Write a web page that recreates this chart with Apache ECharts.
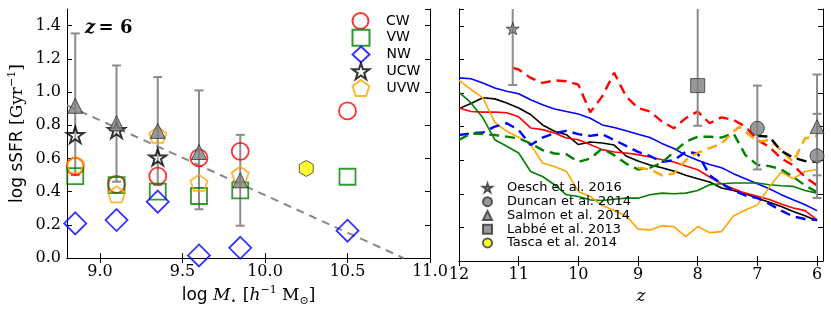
<!DOCTYPE html>
<html><head><meta charset="utf-8">
<script src="https://cdn.jsdelivr.net/npm/echarts@6/dist/echarts.min.js"></script>
<style>html,body{margin:0;padding:0;background:#fff}#c{width:831px;height:312px}</style>
</head><body><div id="c"></div>
<script>
// ===== Left panel (z = 6): log sSFR vs log M* =====
const massTicks = [9.0, 9.5, 10.0, 10.5, 11.0];
const massCW = [8.85, 9.1, 9.35, 9.6, 9.85, 10.5];
const cwSSFR = [0.553, 0.444, 0.494, 0.603, 0.643, 0.886];
const massVW = [8.85, 9.1, 9.35, 9.6, 9.85, 10.5];
const vwSSFR = [0.494, 0.44, 0.40, 0.374, 0.408, 0.49];
const massNW = [8.85, 9.1, 9.35, 9.6, 9.85, 10.5];
const nwSSFR = [0.209, 0.229, 0.34, 0.016, 0.062, 0.165];
const massUCW = [8.85, 9.1, 9.35];
const ucwSSFR = [0.742, 0.772, 0.607];
const massUVW = [8.85, 9.1, 9.35, 9.6, 9.85];
const uvwSSFR = [0.563, 0.384, 0.742, 0.454, 0.503];
const salmonMass = [8.85, 9.1, 9.35, 9.6, 9.85];
const salmonSSFR = [0.917, 0.812, 0.766, 0.639, 0.468];
const salmonLo = [0.50, 0.46, 0.44, 0.294, 0.195];
const salmonHi = [1.353, 1.16, 1.09, 1.01, 0.742];
const tascaMass = [10.25];
const tascaSSFR = [0.54];
const fitMass = [8.8, 10.84];
const fitSSFR = [0.92, 0.0];
const modelNames = ['CW', 'VW', 'NW', 'UCW', 'UVW'];

// ===== Right panel: log sSFR vs z =====
const zTicks = [6, 7, 8, 9, 10, 11, 12];
const zGrid = [12.0, 11.8, 11.6, 11.4, 11.2, 11.0, 10.8, 10.6, 10.4, 10.2, 10.0, 9.8, 9.6, 9.4, 9.2, 9.0, 8.8, 8.6, 8.4, 8.2, 8.0, 7.8, 7.6, 7.4, 7.2, 7.0, 6.8, 6.6, 6.4, 6.2, 6.0];
const blueSolid = [1.09, 1.085, 1.06, 1.03, 1.01, 0.995, 0.96, 0.93, 0.905, 0.89, 0.875, 0.85, 0.81, 0.795, 0.775, 0.755, 0.735, 0.70, 0.67, 0.63, 0.60, 0.575, 0.555, 0.52, 0.49, 0.46, 0.43, 0.395, 0.365, 0.335, 0.30];
const blackSolid = [0.907, 0.937, 0.972, 0.965, 0.941, 0.911, 0.872, 0.81, 0.772, 0.752, 0.693, 0.708, 0.702, 0.69, 0.625, 0.595, 0.572, 0.555, 0.535, 0.51, 0.49, 0.47, 0.434, 0.42, 0.40, 0.374, 0.35, 0.324, 0.295, 0.27, 0.24];
const redSolid = [0.911, 0.89, 0.886, 0.886, 0.882, 0.858, 0.792, 0.782, 0.762, 0.732, 0.722, 0.693, 0.663, 0.649, 0.643, 0.633, 0.619, 0.603, 0.59, 0.565, 0.543, 0.50, 0.46, 0.43, 0.404, 0.385, 0.366, 0.34, 0.315, 0.30, 0.245];
const greenSolid = [1.005, 0.941, 0.852, 0.722, 0.683, 0.643, 0.533, 0.503, 0.454, 0.394, 0.384, 0.364, 0.36, 0.368, 0.374, 0.374, 0.394, 0.404, 0.40, 0.404, 0.42, 0.454, 0.46, 0.464, 0.464, 0.464, 0.454, 0.448, 0.444, 0.42, 0.404];
const orangeSolid = [1.075, 1.021, 0.971, 0.825, 0.772, 0.737, 0.693, 0.583, 0.563, 0.533, 0.414, 0.384, 0.33, 0.30, 0.27, 0.19, 0.185, 0.209, 0.205, 0.145, 0.205, 0.169, 0.175, 0.268, 0.304, 0.334, 0.44, 0.53, 0.49, 0.533, 0.545];
const blueDash = [0.75, 0.76, 0.765, 0.80, 0.82, 0.78, 0.69, 0.735, 0.76, 0.775, 0.755, 0.745, 0.755, 0.72, 0.685, 0.65, 0.625, 0.59, 0.60, 0.65, 0.64, 0.51, 0.46, 0.42, 0.39, 0.375, 0.34, 0.30, 0.265, 0.25, 0.245];
const greenDash = [0.72, 0.76, 0.755, 0.75, 0.74, 0.73, 0.70, 0.66, 0.64, 0.635, 0.59, 0.61, 0.67, 0.63, 0.58, 0.545, 0.555, 0.585, 0.65, 0.71, 0.74, 0.74, 0.735, 0.76, 0.63, 0.572, 0.565, 0.545, 0.50, 0.45, 0.41];
const zRedDash = [11.1, 11.0, 10.8, 10.6, 10.4, 10.2, 10.0, 9.8, 9.6, 9.4, 9.2, 9.0, 8.8, 8.6, 8.4, 8.2, 8.0, 7.8, 7.6, 7.4, 7.2, 7.0, 6.8, 6.6, 6.4, 6.2, 6.0];
const redDash = [1.15, 1.14, 1.09, 1.06, 1.075, 1.07, 1.05, 0.885, 0.98, 1.12, 0.98, 0.91, 0.89, 0.83, 0.79, 0.85, 0.89, 0.82, 0.855, 0.84, 0.80, 0.72, 0.68, 0.61, 0.57, 0.50, 0.45];
const zOrangeDash = [9.0, 8.8, 8.6, 8.4, 8.2, 8.0, 7.8, 7.6, 7.4, 7.3, 7.2, 7.0, 6.8, 6.6, 6.4, 6.2, 6.0];
const orangeDash = [0.555, 0.545, 0.51, 0.52, 0.60, 0.645, 0.672, 0.70, 0.77, 0.80, 0.77, 0.71, 0.72, 0.66, 0.59, 0.73, 0.745];
const zBlackDash = [7.0, 6.8, 6.6, 6.4, 6.2, 6.0];
const blackDash = [0.745, 0.74, 0.655, 0.615, 0.595, 0.59];

const oeschZ = [11.1], oeschS = [1.383], oeschLo = [1.048], oeschHi = [1.6];
const labbeZ = [8.0], labbeS = [1.044], labbeLo = [0.805], labbeHi = [1.6];
const duncanZ = [7.0, 6.0], duncanS = [0.79, 0.626], duncanLo = [0.545, 0.375], duncanHi = [1.044, 0.876];
const salmonZ = [6.0], salmonZS = [0.80], salmonZLo = [0.51], salmonZHi = [1.11];

const Y_MIN = 0, Y_MAX = 1.5;

// ===== helpers =====
const zip = (a, b) => a.map((v, i) => [v, b[i]]);
const zip3 = (a, b, c) => a.map((v, i) => [v, b[i], c[i]]);
const STAR = 'path://M100 0 L122.45 69.1 L195.1 69.1 L136.3 111.8 L158.8 180.9 L100 138.2 L41.2 180.9 L63.7 111.8 L4.9 69.1 L77.55 69.1 Z';
const PENTA = 'path://M100 0 L195.1 69.1 L158.8 180.9 L41.2 180.9 L4.9 69.1 Z';
const HEXA = 'path://M86.6 0 L173.2 50 L173.2 150 L86.6 200 L0 150 L0 50 Z';
const ERR = '#8c8c8c';

function errRender(params, api) {
  const x = api.value(0), lo = api.value(1), hi = api.value(2);
  const top = Math.min(hi, Y_MAX);
  const p0 = api.coord([x, lo]), p1 = api.coord([x, top]);
  const cw = 4.5;
  const st = { stroke: ERR, lineWidth: 2, fill: null };
  const ch = [
    { type: 'line', shape: { x1: p0[0], y1: p0[1], x2: p1[0], y2: p1[1] }, style: st },
    { type: 'line', shape: { x1: p0[0] - cw, y1: p0[1], x2: p0[0] + cw, y2: p0[1] }, style: st }
  ];
  if (hi <= Y_MAX) ch.push({ type: 'line', shape: { x1: p1[0] - cw, y1: p1[1], x2: p1[0] + cw, y2: p1[1] }, style: st });
  return { type: 'group', children: ch };
}

const SERIF = 'DejaVu Serif';
const SANS = 'DejaVu Sans';
const tickLabel = { fontFamily: SERIF, fontSize: 16, color: '#000' };
const axLine = { show: true, lineStyle: { color: '#000', width: 1 } };
const tickIn = (vals) => ({ show: true, inside: true, length: 5, lineStyle: { color: '#000', width: 1 }, customValues: vals });
const tickInY = { show: true, inside: true, length: 5, lineStyle: { color: '#000', width: 1 } };

function lineSeries(name, xs, ys, color, dashed) {
  return {
    name, type: 'line', xAxisIndex: 2, yAxisIndex: 2, data: zip(xs, ys),
    showSymbol: false, symbol: 'none', silent: true, z: 2,
    lineStyle: { color, width: dashed ? 2.4 : 1.6, type: dashed ? [10, 6] : 'solid' }
  };
}

const nameRich = {
  s: { fontFamily: SANS, fontSize: 17, color: '#000' },
  r: { fontFamily: SERIF, fontSize: 17, color: '#000' },
  i: { fontFamily: SERIF, fontStyle: 'italic', fontSize: 17, color: '#000' },
  sup: { fontFamily: SERIF, fontSize: 11, color: '#000', verticalAlign: 'top' },
  sub: { fontFamily: SERIF, fontSize: 11, color: '#000', verticalAlign: 'bottom' }
};

// one legend per model row, rows spaced like the reference
const modelLegends = modelNames.map((nm, i) => ({
  data: [nm], orient: 'vertical', left: 351.5, top: 12 + i * 16.75, padding: 0,
  itemWidth: 17, itemHeight: 16, selectedMode: false,
  textStyle: { fontFamily: SANS, fontSize: 14, color: '#000', lineHeight: 16, padding: [0, 0, 0, 12] }
}));

const option = {
  animation: false,
  backgroundColor: '#fff',
  grid: [
    { left: 67, right: 401, top: 9, bottom: 51 },
    { left: 459, right: 8, top: 9, bottom: 51 }
  ],
  xAxis: [
    { gridIndex: 0, type: 'value', min: 8.8, max: 11.0, position: 'bottom',
      axisLine: axLine, axisTick: tickIn(massTicks), splitLine: { show: false },
      axisLabel: Object.assign({ customValues: massTicks, margin: 6, formatter: v => v.toFixed(1) }, tickLabel),
      name: '{s|log }{i|M}{sub|⋆}{r| [}{i|h}{sup|−1}{r| M}{sub|⊙}{r|]}',
      nameLocation: 'middle', nameGap: 23, nameTextStyle: { rich: nameRich, lineHeight: 22 } },
    { gridIndex: 0, type: 'value', min: 8.8, max: 11.0, position: 'top',
      axisLine: axLine, axisTick: tickIn(massTicks), axisLabel: { show: false }, splitLine: { show: false } },
    { gridIndex: 1, type: 'value', min: 5.9, max: 12, inverse: true, position: 'bottom',
      axisLine: axLine, axisTick: tickIn(zTicks), splitLine: { show: false },
      axisLabel: Object.assign({ customValues: zTicks, margin: 6, formatter: v => String(v) }, tickLabel),
      name: 'z', nameLocation: 'middle', nameGap: 19,
      nameTextStyle: { fontFamily: SERIF, fontStyle: 'italic', fontSize: 17, color: '#000' } },
    { gridIndex: 1, type: 'value', min: 5.9, max: 12, inverse: true, position: 'top',
      axisLine: axLine, axisTick: tickIn(zTicks), axisLabel: { show: false }, splitLine: { show: false } }
  ],
  yAxis: [
    { gridIndex: 0, type: 'value', min: Y_MIN, max: Y_MAX, interval: 0.2, position: 'left',
      axisLine: axLine, axisTick: tickInY, splitLine: { show: false },
      axisLabel: Object.assign({ margin: 6, formatter: v => v.toFixed(1), showMaxLabel: false }, tickLabel),
      name: '{s|log sSFR }{r|[Gyr}{sup|−1}{r|]}', nameLocation: 'middle', nameGap: 38, nameRotate: 90,
      nameTextStyle: { rich: nameRich, lineHeight: 22 } },
    { gridIndex: 0, type: 'value', min: Y_MIN, max: Y_MAX, interval: 0.2, position: 'right',
      axisLine: axLine, axisTick: tickInY, axisLabel: { show: false }, splitLine: { show: false } },
    { gridIndex: 1, type: 'value', min: Y_MIN, max: Y_MAX, interval: 0.2, position: 'left',
      axisLine: axLine, axisTick: tickInY, axisLabel: { show: false }, splitLine: { show: false } },
    { gridIndex: 1, type: 'value', min: Y_MIN, max: Y_MAX, interval: 0.2, position: 'right',
      axisLine: axLine, axisTick: tickInY, axisLabel: { show: false }, splitLine: { show: false } }
  ],
  legend: modelLegends.concat([
    { data: [{ name: 'Oesch et al. 2016' }, { name: 'Duncan et al. 2014' }, { name: 'Salmon et al. 2014' },
             { name: 'Labbé et al. 2013' }, { name: 'Tasca et al. 2014', icon: 'circle' }],
      orient: 'vertical', left: 477, top: 176, itemWidth: 9, itemHeight: 9, itemGap: 0, selectedMode: false,
      textStyle: { fontFamily: SANS, fontSize: 13, color: '#000', lineHeight: 13.75, padding: [0, 0, 0, 10] } }
  ]),
  graphic: [
    { type: 'text', left: 85, top: 19, z: 10,
      style: { text: '{i|z} {b|= 6}', rich: {
        i: { fontFamily: SERIF, fontWeight: 'bold', fontStyle: 'italic', fontSize: 18, fill: '#000' },
        b: { fontFamily: SERIF, fontWeight: 'bold', fontSize: 18, fill: '#000' } } } }
  ],
  series: [
    // ---- left panel ----
    { name: 'fit', type: 'line', xAxisIndex: 0, yAxisIndex: 0, data: zip(fitMass, fitSSFR), symbol: 'none',
      silent: true, z: 1, lineStyle: { color: '#888', width: 2, type: [8, 6] } },
    { name: 'salmonErrL', type: 'custom', xAxisIndex: 0, yAxisIndex: 0, renderItem: errRender,
      encode: { x: 0, y: [1, 2] }, data: zip3(salmonMass, salmonLo, salmonHi), z: 2, silent: true },
    { name: 'CW', type: 'scatter', xAxisIndex: 0, yAxisIndex: 0, data: zip(massCW, cwSSFR), symbol: 'circle', symbolSize: 17, z: 3,
      itemStyle: { color: 'rgba(0,0,0,0)', borderColor: '#ff0000', borderWidth: 1.8 } },
    { name: 'VW', type: 'scatter', xAxisIndex: 0, yAxisIndex: 0, data: zip(massVW, vwSSFR), symbol: 'rect', symbolSize: 16, z: 3,
      itemStyle: { color: 'rgba(0,0,0,0)', borderColor: '#008000', borderWidth: 1.8 } },
    { name: 'NW', type: 'scatter', xAxisIndex: 0, yAxisIndex: 0, data: zip(massNW, nwSSFR), symbol: 'diamond', symbolSize: 22, z: 3,
      itemStyle: { color: 'rgba(0,0,0,0)', borderColor: '#0000ff', borderWidth: 1.8 } },
    { name: 'UCW', type: 'scatter', xAxisIndex: 0, yAxisIndex: 0, data: zip(massUCW, ucwSSFR), symbol: STAR, symbolKeepAspect: true, symbolSize: 17, z: 3,
      itemStyle: { color: 'rgba(255,255,255,0.3)', borderColor: '#000', borderWidth: 2 } },
    { name: 'UVW', type: 'scatter', xAxisIndex: 0, yAxisIndex: 0, data: zip(massUVW, uvwSSFR), symbol: PENTA, symbolKeepAspect: true, symbolSize: 17, z: 3,
      itemStyle: { color: 'rgba(0,0,0,0)', borderColor: '#ffa500', borderWidth: 1.8 } },
    { name: 'Salmon et al. 2014', type: 'scatter', xAxisIndex: 0, yAxisIndex: 0, data: zip(salmonMass, salmonSSFR), symbol: 'triangle', symbolSize: 15, z: 4,
      itemStyle: { color: '#808080', borderColor: '#333', borderWidth: 1 } },
    { name: 'Tasca et al. 2014', type: 'scatter', xAxisIndex: 0, yAxisIndex: 0, data: zip(tascaMass, tascaSSFR), symbol: HEXA, symbolKeepAspect: true, symbolSize: 16, z: 4,
      itemStyle: { color: '#ffff00', borderColor: '#333', borderWidth: 1 } },
    // ---- right panel lines ----
    lineSeries('bs', zGrid, blueSolid, '#0000ff', false),
    lineSeries('ks', zGrid, blackSolid, '#000000', false),
    lineSeries('rs', zGrid, redSolid, '#ff0000', false),
    lineSeries('gs', zGrid, greenSolid, '#008000', false),
    lineSeries('os', zGrid, orangeSolid, '#ffa500', false),
    lineSeries('rd', zRedDash, redDash, '#ff0000', true),
    lineSeries('bd', zGrid, blueDash, '#0000ff', true),
    lineSeries('gd', zGrid, greenDash, '#008000', true),
    lineSeries('od', zOrangeDash, orangeDash, '#ffa500', true),
    lineSeries('kd', zBlackDash, blackDash, '#000000', true),
    // ---- right panel observations ----
    { name: 'errR', type: 'custom', xAxisIndex: 2, yAxisIndex: 2, renderItem: errRender, encode: { x: 0, y: [1, 2] }, z: 5, silent: true,
      data: [].concat(zip3(oeschZ, oeschLo, oeschHi), zip3(labbeZ, labbeLo, labbeHi), zip3(duncanZ, duncanLo, duncanHi), zip3(salmonZ, salmonZLo, salmonZHi)) },
    { name: 'Oesch et al. 2016', type: 'scatter', xAxisIndex: 2, yAxisIndex: 2, data: zip(oeschZ, oeschS), symbol: STAR, symbolKeepAspect: true, symbolSize: 13, z: 6,
      itemStyle: { color: '#808080', borderColor: '#333', borderWidth: 1 } },
    { name: 'Duncan et al. 2014', type: 'scatter', xAxisIndex: 2, yAxisIndex: 2, data: zip(duncanZ, duncanS), symbol: 'circle', symbolSize: 14, z: 6,
      itemStyle: { color: '#808080', borderColor: '#333', borderWidth: 1 } },
    { name: 'Salmon et al. 2014', type: 'scatter', xAxisIndex: 2, yAxisIndex: 2, data: zip(salmonZ, salmonZS), symbol: 'triangle', symbolSize: 14, z: 6,
      itemStyle: { color: '#808080', borderColor: '#333', borderWidth: 1 } },
    { name: 'Labbé et al. 2013', type: 'scatter', xAxisIndex: 2, yAxisIndex: 2, data: zip(labbeZ, labbeS), symbol: 'rect', symbolSize: 14, z: 6,
      itemStyle: { color: '#808080', borderColor: '#333', borderWidth: 1 } }
  ]
};

const chart = echarts.init(document.getElementById('c'), null, { renderer: 'canvas' });
chart.setOption(option);
</script>
</body></html>
